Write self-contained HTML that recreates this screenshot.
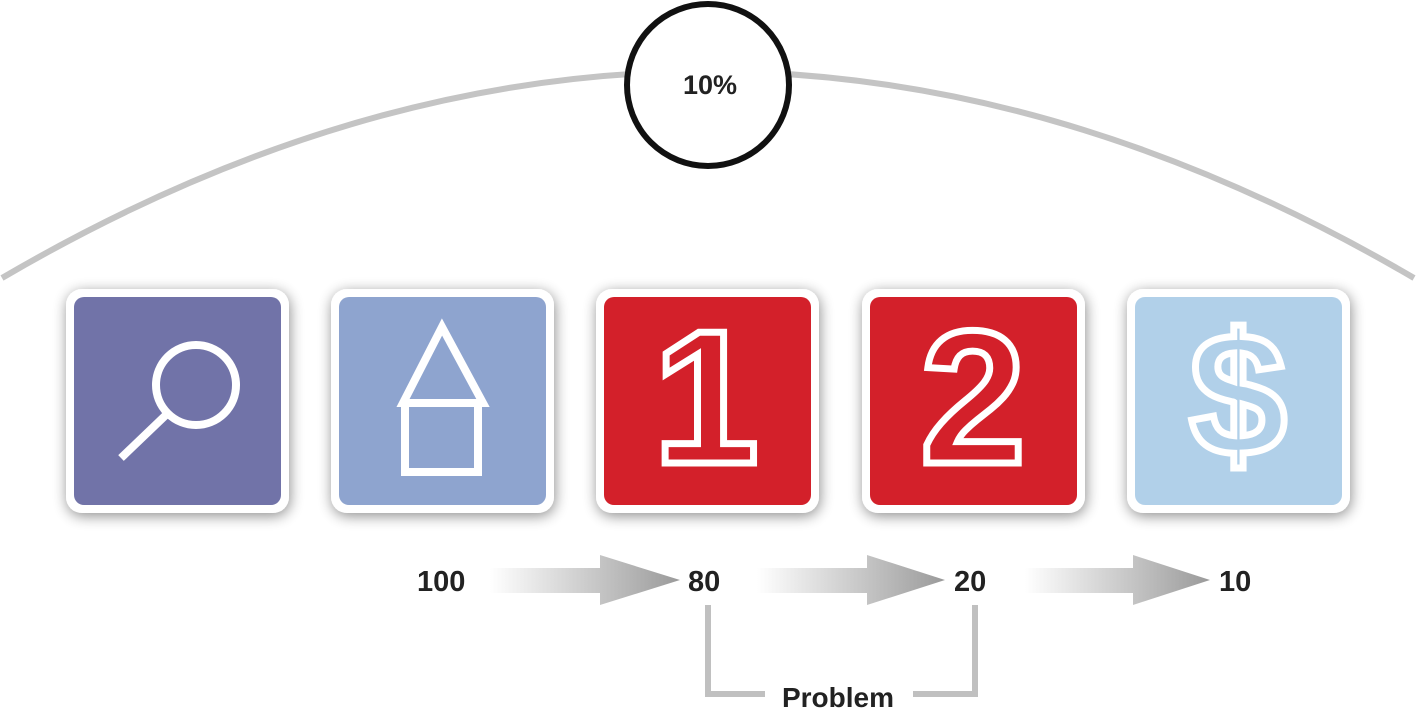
<!DOCTYPE html>
<html><head><style>
html,body{margin:0;padding:0;background:#fff;}
body{width:1416px;height:717px;overflow:hidden;}
</style></head><body>
<svg width="1416" height="717" viewBox="0 0 1416 717" xmlns="http://www.w3.org/2000/svg">
<defs>
<filter id="sh" x="-20%" y="-20%" width="140%" height="140%">
<feGaussianBlur in="SourceAlpha" stdDeviation="7"/>
<feOffset dx="1" dy="3"/>
<feComponentTransfer><feFuncA type="linear" slope="0.45"/></feComponentTransfer>
<feMerge><feMergeNode/><feMergeNode in="SourceGraphic"/></feMerge>
</filter>
<linearGradient id="ag" x1="0" x2="1" y1="0" y2="0">
<stop offset="0" stop-color="#fff"/>
<stop offset="1" stop-color="#9a9a9a"/>
</linearGradient>
</defs>
<path d="M2,278 Q708,-135 1414,278" fill="none" stroke="#c4c4c4" stroke-width="6"/>
<circle cx="708" cy="85" r="81" fill="#fff" stroke="#111" stroke-width="6"/>
<text x="710" y="94" text-anchor="middle" font-family="Liberation Sans, sans-serif" font-weight="bold" font-size="27" fill="#222">10%</text>

<g filter="url(#sh)">
<rect x="66" y="289" width="223" height="224" rx="16" fill="#fff"/>
<rect x="331" y="289" width="223" height="224" rx="16" fill="#fff"/>
<rect x="596" y="289" width="223" height="224" rx="16" fill="#fff"/>
<rect x="862" y="289" width="223" height="224" rx="16" fill="#fff"/>
<rect x="1127" y="289" width="223" height="224" rx="16" fill="#fff"/>
</g>
<rect x="74" y="297" width="207" height="208" rx="10" fill="#7173a8"/>
<rect x="339" y="297" width="207" height="208" rx="10" fill="#8ea4cf"/>
<rect x="604" y="297" width="207" height="208" rx="10" fill="#d3202a"/>
<rect x="870" y="297" width="207" height="208" rx="10" fill="#d3202a"/>
<rect x="1135" y="297" width="207" height="208" rx="10" fill="#b1d0e9"/>

<circle cx="196" cy="385" r="40" fill="none" stroke="#fff" stroke-width="8"/>
<line x1="168" y1="413" x2="121" y2="458" stroke="#fff" stroke-width="8"/>

<polygon points="442,327 403,403 483,403" fill="none" stroke="#fff" stroke-width="8" stroke-linejoin="miter"/>
<rect x="405" y="403" width="73" height="69" fill="none" stroke="#fff" stroke-width="8"/>

<text x="706" y="463" text-anchor="middle" font-family="Liberation Sans, sans-serif" font-weight="bold" font-size="190" fill="none" stroke="#fff" stroke-width="7">1</text>
<text x="973" y="463" text-anchor="middle" font-family="Liberation Sans, sans-serif" font-weight="bold" font-size="190" fill="none" stroke="#fff" stroke-width="7">2</text>
<text x="1238" y="455" text-anchor="middle" font-family="Liberation Sans, sans-serif" font-weight="bold" font-size="175" fill="none" stroke="#fff" stroke-width="7">$</text>

<g font-family="Liberation Sans, sans-serif" font-weight="bold" font-size="29" fill="#222">
<text x="417" y="591">100</text>
<text x="688" y="591">80</text>
<text x="954" y="591">20</text>
<text x="1219" y="591">10</text>
<text x="838" y="707" text-anchor="middle" font-size="28">Problem</text>
</g>
<g fill="url(#ag)">
<polygon points="490,568 600,568 600,555 680,580 600,605 600,593 490,593"/>
<polygon points="757,568 867,568 867,555 945,580 867,605 867,593 757,593"/>
<polygon points="1025,568 1133,568 1133,555 1210,580 1133,605 1133,593 1025,593"/>
</g>
<polyline points="708,605 708,694 765,694" fill="none" stroke="#c0c0c0" stroke-width="6"/>
<polyline points="913,694 975,694 975,605" fill="none" stroke="#c0c0c0" stroke-width="6"/>
</svg>
</body></html>
